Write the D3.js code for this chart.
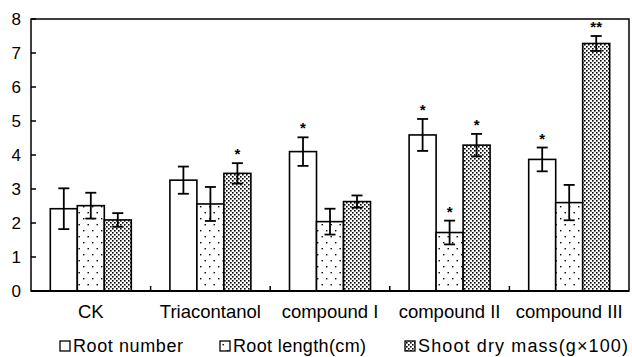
<!DOCTYPE html>
<html>
<head>
<meta charset="utf-8">
<script src="https://cdn.jsdelivr.net/npm/d3@7"></script>
<style>
  html, body { margin: 0; padding: 0; background: #fff; }
  svg { display: block; font-family: "Liberation Sans", Arial, sans-serif; }
</style>
</head>
<body>
<div id="chart"></div>
<script>
const categories = ["CK", "Triacontanol", "compound I", "compound II", "compound III"];
const seriesNames = ["Root number", "Root length(cm)", "Shoot dry mass(g\u00d7100)"];
const rootNumber    = [2.42, 3.26, 4.10, 4.59, 3.87];
const rootNumberErr = [0.60, 0.40, 0.42, 0.47, 0.35];
const rootLength    = [2.51, 2.56, 2.04, 1.72, 2.60];
const rootLengthErr = [0.38, 0.50, 0.38, 0.35, 0.52];
const shootMass     = [2.09, 3.46, 2.63, 4.29, 7.28];
const shootMassErr  = [0.20, 0.30, 0.18, 0.33, 0.22];
const rootNumberSig = ["", "", "*", "*", "*"];
const rootLengthSig = ["", "", "", "*", ""];
const shootMassSig  = ["", "*", "", "*", "**"];
const yTicks = [0, 1, 2, 3, 4, 5, 6, 7, 8];

const W = 632, H = 357;
const pL = 31, pR = 3, pT = 19, pB = 66;

const svg = d3.select("#chart").append("svg").attr("width", W).attr("height", H);

// patterns
const defs = svg.append("defs");
const pSparse = defs.append("pattern").attr("id", "sparse").attr("patternUnits", "userSpaceOnUse")
  .attr("width", 9).attr("height", 12);
pSparse.append("rect").attr("width", 9).attr("height", 12).attr("fill", "#fff");
pSparse.append("rect").attr("x", 2).attr("y", 2).attr("width", 1.4).attr("height", 1.4).attr("fill", "#000");
pSparse.append("rect").attr("x", 6.5).attr("y", 8).attr("width", 1.4).attr("height", 1.4).attr("fill", "#000");

const pDense = defs.append("pattern").attr("id", "dense").attr("patternUnits", "userSpaceOnUse")
  .attr("width", 4).attr("height", 4);
pDense.append("rect").attr("width", 4).attr("height", 4).attr("fill", "#fff");
pDense.append("rect").attr("x", 0).attr("y", 0).attr("width", 1.6).attr("height", 1.6).attr("fill", "#000");
pDense.append("rect").attr("x", 2).attr("y", 2).attr("width", 1.6).attr("height", 1.6).attr("fill", "#000");

const fills = ["#fff", "url(#sparse)", "url(#dense)"];

const x0 = d3.scaleBand().domain(categories).range([pL, W - pR]).paddingInner(0).paddingOuter(0);
const x1 = d3.scaleBand().domain(seriesNames).range([0, x0.bandwidth()]).paddingInner(0).paddingOuter(0.715);
const y = d3.scaleLinear().domain([0, 8]).range([H - pB, pT]);

const series = [
  { name: seriesNames[0], v: rootNumber, e: rootNumberErr, s: rootNumberSig },
  { name: seriesNames[1], v: rootLength, e: rootLengthErr, s: rootLengthSig },
  { name: seriesNames[2], v: shootMass,  e: shootMassErr,  s: shootMassSig }
];

// bars
series.forEach((sr, si) => {
  const g = svg.append("g");
  categories.forEach((c, i) => {
    const bx = x0(c) + x1(sr.name);
    g.append("rect")
      .attr("x", bx).attr("y", y(sr.v[i]))
      .attr("width", x1.bandwidth()).attr("height", y(0) - y(sr.v[i]))
      .attr("fill", fills[si]).attr("stroke", "#000").attr("stroke-width", 1.6);
  });
});

// error bars + significance
series.forEach(sr => {
  categories.forEach((c, i) => {
    const cx = x0(c) + x1(sr.name) + x1.bandwidth() / 2;
    const top = y(sr.v[i] + sr.e[i]), bot = y(sr.v[i] - sr.e[i]);
    svg.append("line").attr("x1", cx).attr("x2", cx).attr("y1", top).attr("y2", bot)
      .attr("stroke", "#000").attr("stroke-width", 1.8);
    [top, bot].forEach(yy => {
      svg.append("line").attr("x1", cx - 5.5).attr("x2", cx + 5.5).attr("y1", yy).attr("y2", yy)
        .attr("stroke", "#000").attr("stroke-width", 1.8);
    });
    if (sr.s[i]) {
      svg.append("text").attr("x", cx).attr("y", top - 4)
        .attr("text-anchor", "middle").attr("font-size", "15px").attr("font-weight", "bold")
        .attr("fill", "#000").text(sr.s[i]);
    }
  });
});

// frame
svg.append("rect").attr("x", pL).attr("y", pT).attr("width", W - pR - pL).attr("height", y(0) - pT)
  .attr("fill", "none").attr("stroke", "#000").attr("stroke-width", 1.5);
svg.append("line").attr("x1", pL).attr("x2", W - pR).attr("y1", y(0)).attr("y2", y(0))
  .attr("stroke", "#000").attr("stroke-width", 2);

// y ticks
yTicks.forEach(t => {
  svg.append("line").attr("x1", pL).attr("x2", pL + 5).attr("y1", y(t)).attr("y2", y(t))
    .attr("stroke", "#000").attr("stroke-width", 1.5);
  svg.append("text").attr("x", 21).attr("y", y(t)).attr("dy", "0.36em")
    .attr("text-anchor", "end").attr("font-size", "17px").attr("fill", "#000").text(t);
});

// category separators + labels
categories.forEach((c, i) => {
  if (i > 0) {
    svg.append("line").attr("x1", x0(c)).attr("x2", x0(c)).attr("y1", y(0)).attr("y2", y(0) - 5)
      .attr("stroke", "#000").attr("stroke-width", 1.5);
  }
  svg.append("text").attr("x", x0(c) + x0.bandwidth() / 2).attr("y", 318)
    .attr("text-anchor", "middle").attr("font-size", "18.5px").attr("fill", "#000").text(c);
});

// legend
const legX = [60, 220, 405];
const legW = [110, 133, 210];
series.forEach((sr, si) => {
  svg.append("rect").attr("x", legX[si]).attr("y", 341).attr("width", 10).attr("height", 10)
    .attr("fill", fills[si]).attr("stroke", "#000").attr("stroke-width", 1.3);
  svg.append("text").attr("x", legX[si] + 13).attr("y", 352)
    .attr("font-size", "18px").attr("fill", "#000")
    .attr("textLength", legW[si]).attr("lengthAdjust", "spacing").text(sr.name);
});
</script>
</body>
</html>
